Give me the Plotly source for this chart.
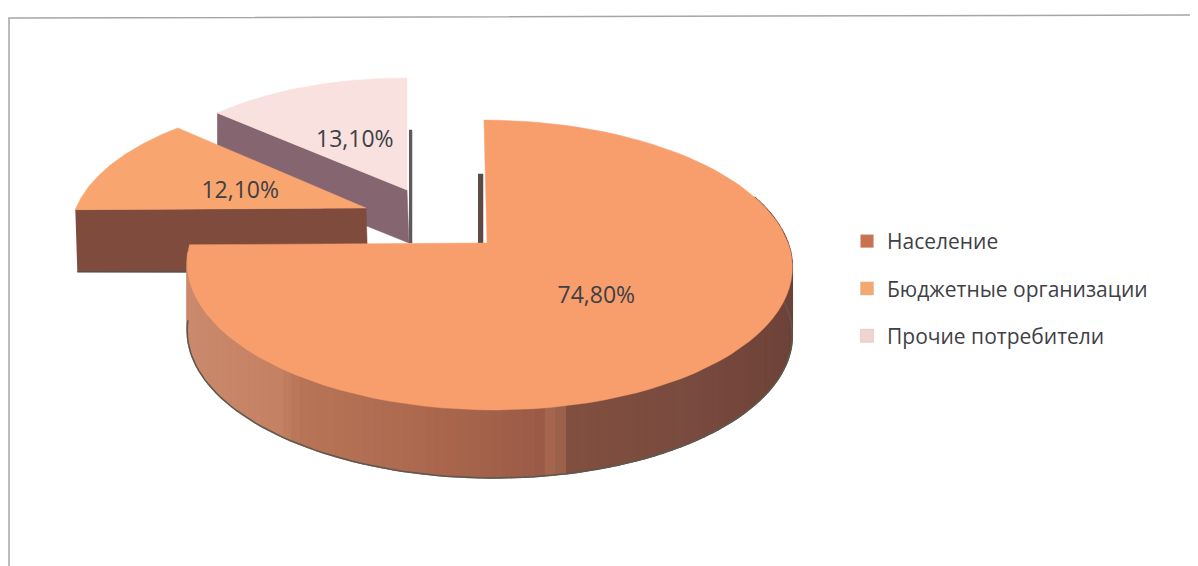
import math
import plotly.graph_objects as go

categories = ["Население", "Бюджетные организации", "Прочие потребители"]
values = [74.8, 12.1, 13.1]
labels = [f"{v:.2f}".replace(".", ",") + "%" for v in values]

top_colors = ["#F79E6C", "#F8A56F", "#F8E1DF"]
legend_colors = ["#C8734F", "#F3A870", "#F0D3D3"]
wall_colors = ["#A8654C", "#7E4B3C", "#85656F"]
TEXT = "#3F3F46"
FONT = "Open Sans"
PAGE_OFFSET = 8  # the page body margin shifts the plot

# Projection of each exploded slice: apex, arc centre, radius, foreshortening, perspective, shear, depth, label radius, label drop
geom = [
    dict(ax=487, ay=243, cx=489, cy=243, R=299, a=141.6, b=0.152, k=5, h=68, lr=0.48, ld=4),
    dict(ax=366, ay=208, cx=366, cy=208, R=290, a=133, b=0.19, k=0, h=62, lr=0.48, ld=6),
    dict(ax=407, ay=190, cx=407, cy=190, R=265, a=116, b=0.035, k=0, h=53, lr=0.5, ld=4),
]

# Bounds of each slice in degrees clockwise from the top
bounds = []
acc = 0.0
for v in values:
    bounds.append((acc, acc + v / sum(values) * 360))
    acc += v / sum(values) * 360


def project(g, t_deg, r=1.0):
    t = math.radians(t_deg)
    u, w = r * math.sin(t), -r * math.cos(t)
    d = 1 - g["b"] * w
    return g["cx"] + g["R"] * u / d + g["k"] * w, g["cy"] + g["a"] * w / d


def arc(g, t0, t1, n=90):
    return [project(g, t0 + (t1 - t0) * i / n) for i in range(n + 1)]


def lerp_color(stops, x):
    for (x0, c0), (x1, c1) in zip(stops, stops[1:]):
        if x0 <= x <= x1:
            f = (x - x0) / (x1 - x0)
            rgb = [int(int(c0[i:i+2], 16) * (1 - f) + int(c1[i:i+2], 16) * f) for i in (1, 3, 5)]
            return "rgb(%d,%d,%d)" % tuple(rgb)
    return stops[-1][1]


fig = go.Figure()


def poly(xs, ys, color, w=0.5):
    fig.add_trace(go.Scatter(x=xs, y=ys, mode="lines", fill="toself", fillcolor=color,
                             line=dict(color=color, width=w), hoverinfo="skip", showlegend=False))


def line(xs, ys, color, width):
    fig.add_trace(go.Scatter(x=xs, y=ys, mode="lines", line=dict(color=color, width=width),
                             hoverinfo="skip", showlegend=False))


def top(i):
    g = geom[i]
    pts = arc(g, *bounds[i])
    poly([g["ax"]] + [p[0] for p in pts] + [g["ax"]], [g["ay"]] + [p[1] for p in pts] + [g["ay"]], top_colors[i])


# Frame of the chart area
line([9, 9, 1198], [566, 18, 15], "#A6A6A6", 1.5)

# Small slice on the back right
g = geom[2]
c = project(g, bounds[2][0])
poly([g["ax"] + 2, g["ax"] + 5, g["ax"] + 5, g["ax"] + 2],
     [g["ay"] - 60, g["ay"] - 60, g["ay"] + g["h"], g["ay"] + g["h"]], "#5E5A5C")
poly([c[0], g["ax"], g["ax"] + 2, c[0]], [c[1], g["ay"], g["ay"] + g["h"], c[1] + g["h"]], wall_colors[2])
top(2)

# Small slice on the left
g = geom[1]
e = project(g, bounds[1][0])
poly([e[0], g["ax"], g["ax"] + 2, e[0] + 2], [e[1], g["ay"], g["ay"] + g["h"] + 2, e[1] + g["h"]], wall_colors[1])
line([e[0] + 2, g["ax"] + 2], [e[1] + g["h"], g["ay"] + g["h"] + 2], "#55504C", 1.5)
top(1)

# Large slice
g = geom[0]
poly([g["ax"] - 9, g["ax"] - 4, g["ax"] - 4, g["ax"] - 9],
     [g["ay"] - 69, g["ay"] - 69, g["ay"], g["ay"]], "#5C4A44")
wall_stops = [(180, "#CC8B6E"), (280, "#C58163"), (300, "#B97557"), (450, "#A9664D"),
              (546, "#9A5A46"), (553, "#AD6E55"), (557, "#AD6E55"), (566, "#82503F"),
              (700, "#794A3F"), (800, "#6D4238")]
wall_arc = arc(g, bounds[0][0] + 70, bounds[0][1] - 3, n=110)
for p, q in zip(wall_arc, wall_arc[1:]):
    poly([p[0], q[0], q[0], p[0]], [p[1], q[1], q[1] + g["h"], p[1] + g["h"]],
         lerp_color(wall_stops, (p[0] + q[0]) / 2), w=1.5)
line([p[0] for p in wall_arc], [p[1] + g["h"] for p in wall_arc], "#5A5A52", 1.5)
top(0)

# Percentage labels at mid-angle of each slice
lx, ly = [], []
for i, g in enumerate(geom):
    x, y = project(g, sum(bounds[i]) / 2, g["lr"])
    lx.append(x - g["cx"] + g["ax"])
    ly.append(y - g["cy"] + g["ay"] + g["ld"])
fig.add_trace(go.Scatter(x=lx, y=ly, mode="text", text=labels, textposition="middle center",
                         textfont=dict(family=FONT, size=23, color=TEXT),
                         hoverinfo="skip", showlegend=False))

# Legend
for name, color in zip(categories, legend_colors):
    fig.add_trace(go.Scatter(x=[None], y=[None], mode="markers", name=name, legendgroup=name,
                             marker=dict(symbol="square", size=13, color=color, line=dict(color="#D9B5A5", width=0.5))))

fig.update_layout(
    width=1198, height=566, margin=dict(l=0, r=0, t=0, b=0),
    paper_bgcolor="#FFFFFF", plot_bgcolor="#FFFFFF",
    xaxis=dict(range=[PAGE_OFFSET, 1198 + PAGE_OFFSET], visible=False, fixedrange=True),
    yaxis=dict(range=[566 + PAGE_OFFSET, PAGE_OFFSET], visible=False, fixedrange=True),
    legend=dict(x=(847 - PAGE_OFFSET) / 1198, y=1 - (221 - PAGE_OFFSET) / 566, xanchor="left", yanchor="top",
                bgcolor="rgba(0,0,0,0)", tracegroupgap=17, itemsizing="trace",
                font=dict(family=FONT, size=21, color=TEXT)),
)
fig.write_html("out.html")
